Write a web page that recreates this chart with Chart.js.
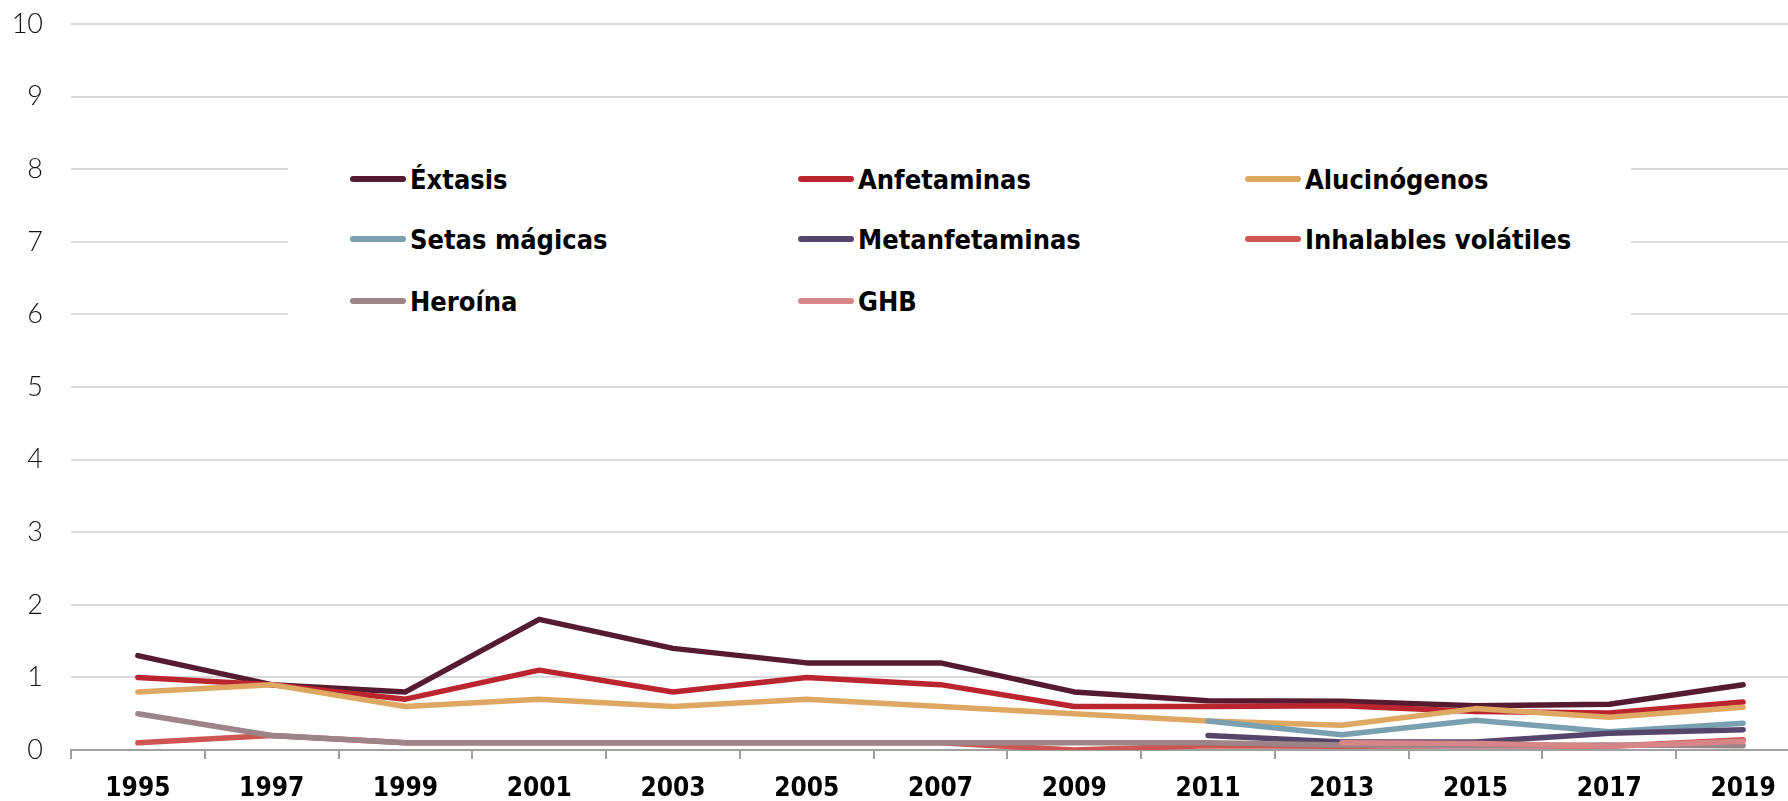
<!DOCTYPE html>
<html>
<head>
<meta charset="utf-8">
<script src="https://cdn.jsdelivr.net/npm/chart.js@4/dist/chart.umd.min.js"></script>
<style>
  html, body { margin: 0; padding: 0; background: #ffffff; overflow: hidden; width: 1788px; height: 801px; }
  #wrap { position: relative; width: 1810px; height: 801px; }
  #legend { position: absolute; left: 288px; top: 122px; width: 1343px; height: 212px; background: #ffffff; }
  .item { position: absolute; height: 30px; display: flex; align-items: center; white-space: nowrap;
          font-family: "DejaVu Sans Condensed", "DejaVu Sans", sans-serif; font-weight: bold; font-size: 27px; color: #000; }
  .swatch { display: inline-block; width: 56px; height: 6px; border-radius: 3px; margin-right: 4px; }
</style>
</head>
<body>
<div id="wrap">
  <canvas id="c" width="1810" height="801"></canvas>
  <div id="legend"></div>
</div>
<script>
const years = ["1995","1997","1999","2001","2003","2005","2007","2009","2011","2013","2015","2017","2019"];

const extasis       = [1.3, 0.9, 0.8, 1.8, 1.4, 1.2, 1.2, 0.8, 0.68, 0.67, 0.61, 0.63, 0.9];
const anfetaminas   = [1.0, 0.9, 0.7, 1.1, 0.8, 1.0, 0.9, 0.6, 0.6, 0.61, 0.53, 0.51, 0.66];
const alucinogenos  = [0.8, 0.9, 0.6, 0.7, 0.6, 0.7, 0.6, 0.5, 0.4, 0.34, 0.57, 0.45, 0.59];
const setasMagicas  = [null, null, null, null, null, null, null, null, 0.4, 0.21, 0.41, 0.25, 0.37];
const metanfetaminas= [null, null, null, null, null, null, null, null, 0.2, 0.11, 0.11, 0.23, 0.28];
const inhalables    = [0.1, 0.2, 0.1, 0.1, 0.1, 0.1, 0.1, 0.0, 0.06, 0.05, 0.06, 0.05, 0.14];
const heroina       = [0.5, 0.2, 0.1, 0.1, 0.1, 0.1, 0.1, 0.1, 0.1, 0.07, 0.06, 0.07, 0.06];
const ghb           = [null, null, null, null, null, null, null, null, null, 0.1, 0.09, 0.05, 0.12];

const seriesNames  = ["Éxtasis", "Anfetaminas", "Alucinógenos", "Setas mágicas", "Metanfetaminas", "Inhalables volátiles", "Heroína", "GHB"];
const seriesValues = [extasis, anfetaminas, alucinogenos, setasMagicas, metanfetaminas, inhalables, heroina, ghb];
const seriesColors = ["#561B30", "#BA2530", "#DEA762", "#7A9FB1", "#56456A", "#CD5552", "#9C8489", "#D88587"];

const yTicks = [0,1,2,3,4,5,6,7,8,9,10];

const datasets = seriesNames.map((name, i) => ({
  label: name,
  data: seriesValues[i],
  borderColor: seriesColors[i],
  backgroundColor: seriesColors[i],
  borderWidth: 5.5,
  pointRadius: 0,
  pointHoverRadius: 0,
  tension: 0,
  fill: false,
  borderCapStyle: 'round',
  borderJoinStyle: 'round',
  order: seriesNames.length - i
}));

new Chart(document.getElementById('c'), {
  type: 'line',
  data: { labels: years, datasets },
  options: {
    responsive: false,
    animation: false,
    devicePixelRatio: 1,
    layout: { padding: { top: 24, left: 0, right: 0, bottom: 0 } },
    plugins: { legend: { display: false }, tooltip: { enabled: false } },
    scales: {
      x: {
        offset: true,
        grid: { offset: true, drawOnChartArea: false, drawTicks: true, tickLength: 9, color: '#a0a0a0', lineWidth: 2 },
        border: { display: true, color: '#a0a0a0', width: 2 },
        ticks: { padding: 15, color: '#000', font: { family: '"DejaVu Sans Condensed", "DejaVu Sans", sans-serif', weight: 'bold', size: 26 }, maxRotation: 0, autoSkip: false },
        afterFit: (s) => { s.height = 51; s.paddingLeft = 0; s.paddingRight = 0; }
      },
      y: {
        min: 0, max: 10,
        afterBuildTicks: (s) => { s.ticks = yTicks.map(v => ({ value: v })); },
        grid: { drawTicks: false, color: '#d9d9d9', lineWidth: 2 },
        border: { display: false },
        ticks: { padding: 28, color: '#111', font: { family: 'Lato, "Open Sans", sans-serif', weight: 300, size: 27 } },
        afterFit: (s) => { s.width = 71; s.paddingTop = 0; s.paddingBottom = 0; }
      }
    }
  }
});

// HTML legend built from the series arrays
const legend = document.getElementById('legend');
const colX = [62, 510, 957];
const rowY = [42, 102, 164];
seriesNames.forEach((name, i) => {
  const d = document.createElement('div');
  d.className = 'item';
  d.style.left = colX[i % 3] + 'px';
  d.style.top = rowY[Math.floor(i / 3)] + 'px';
  const sw = document.createElement('span');
  sw.className = 'swatch';
  sw.style.background = seriesColors[i];
  d.appendChild(sw);
  d.appendChild(document.createTextNode(name));
  legend.appendChild(d);
});
</script>
</body>
</html>
